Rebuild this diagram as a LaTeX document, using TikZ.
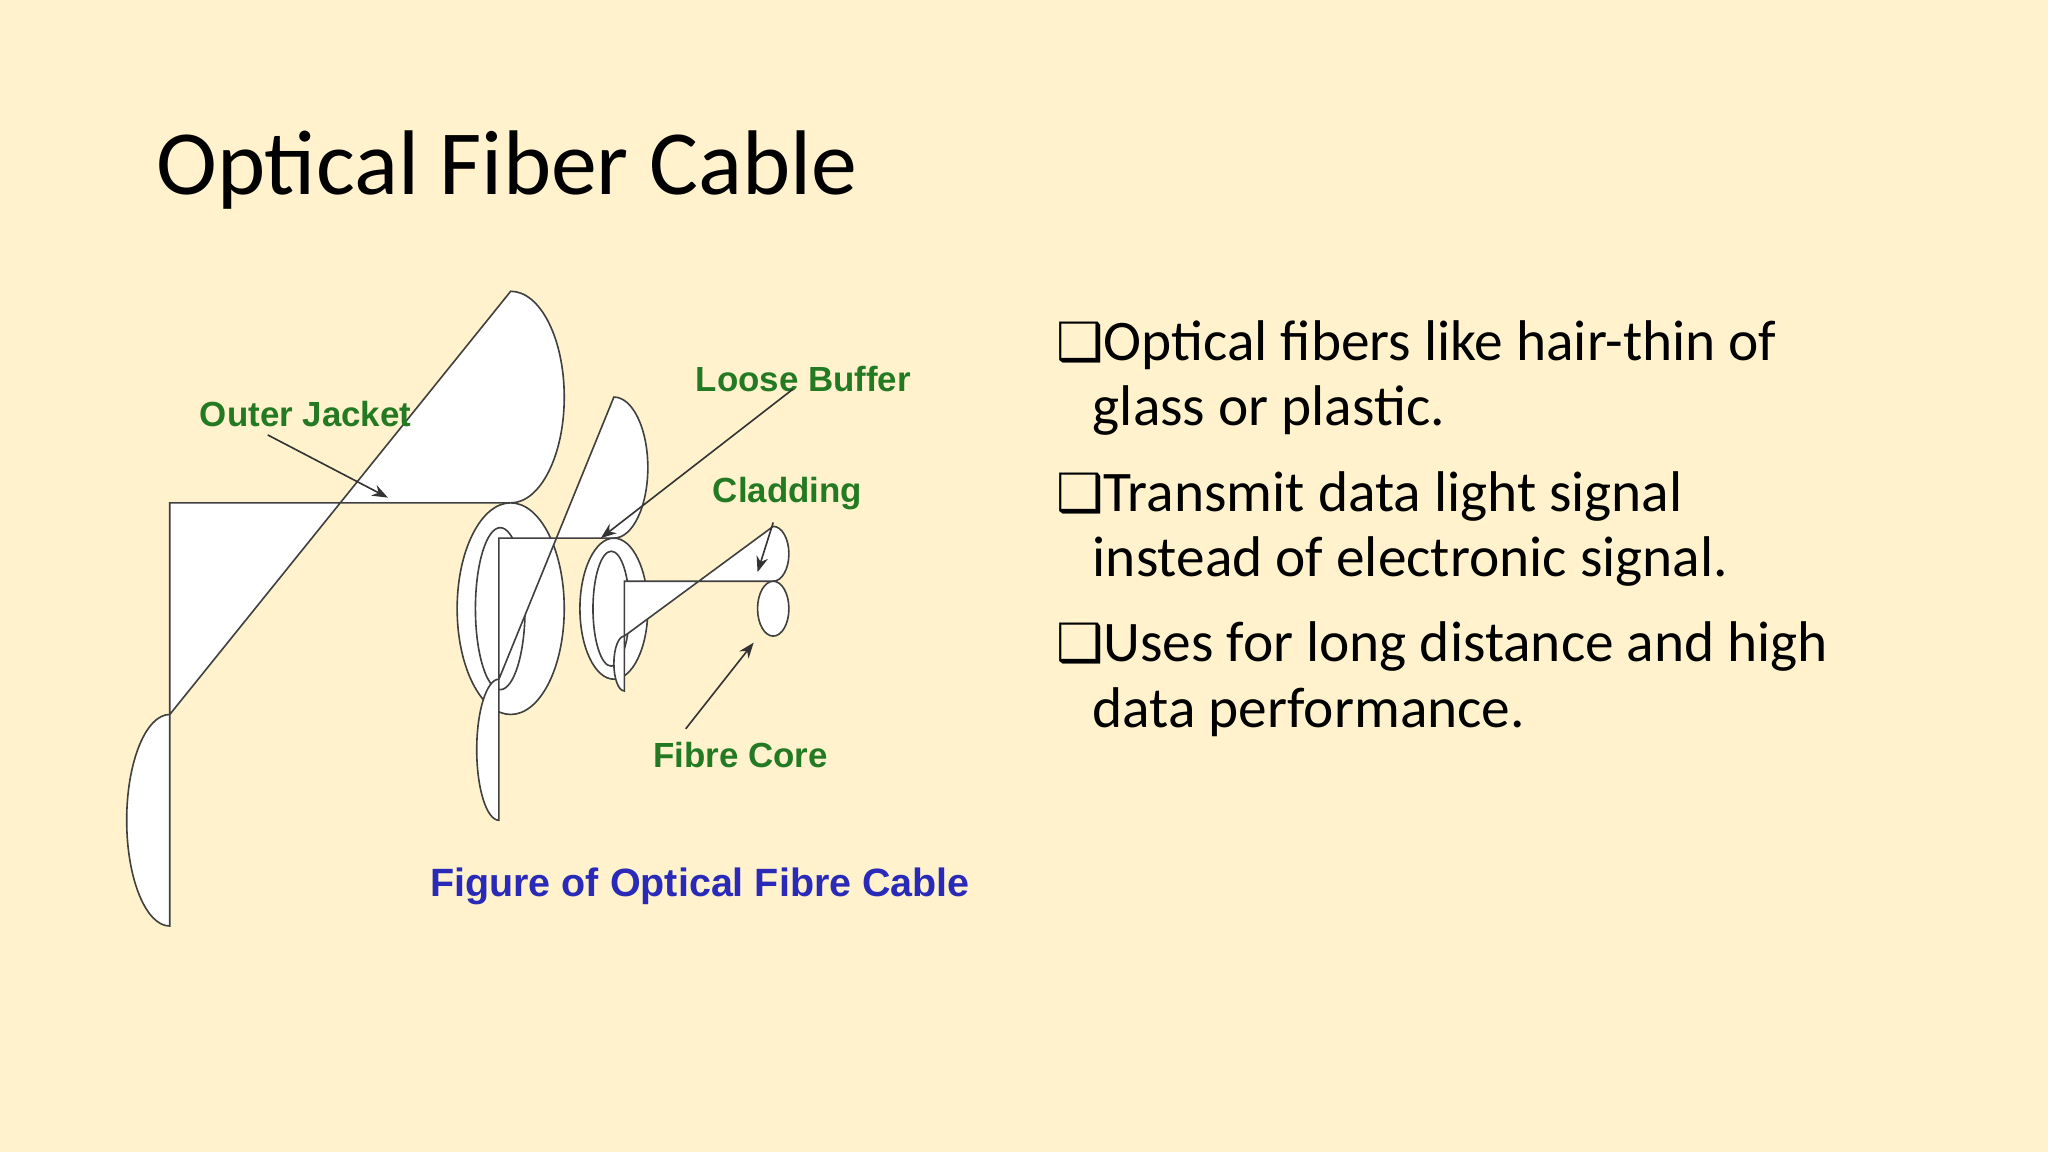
\documentclass[tikz,border=0pt]{standalone}
\usetikzlibrary{arrows.meta}
\usepackage{fontspec}
\setmainfont{Carlito}
\newfontfamily\arialf{Liberation Sans}
\newfontfamily\djv{DejaVu Sans}
\definecolor{bg}{HTML}{FFF2CC}
\definecolor{lblgreen}{HTML}{237A23}
\definecolor{capblue}{HTML}{2A2AB8}
\begin{document}
\begin{tikzpicture}[x=0.1mm,y=-0.1mm,
  lbl/.style={font=\arialf\bfseries\fontsize{7.6}{9}\selectfont,text=lblgreen,inner sep=0},
  bul/.style={font=\fontsize{12.5}{15}\selectfont,anchor=west,inner sep=0},
  cab/.style={draw=black!75,line width=0.35pt,fill=white},
  arr/.style={draw=black!80,line width=0.35pt,-{Stealth[length=1.2mm]}}]
\fill[bg] (0,0) rectangle (1568,882);
\useasboundingbox (0,0) rectangle (1568,882);
\node[anchor=west,inner sep=0,font=\fontsize{20}{24}\selectfont] (title) at (119,130) {Optical Fiber Cable};
% outer jacket
\path[cab] (130,385) -- (391,385) arc[start angle=90,end angle=-90,x radius=41,y radius=81] -- (130,547) arc[start angle=270,end angle=90,x radius=33,y radius=81] -- cycle;
\draw[cab] (391,466) ellipse[x radius=41,y radius=81];
\draw[black!75,line width=0.35pt] (383,466) ellipse[x radius=19,y radius=62];
% buffer
\path[cab] (382,412) -- (470,412) arc[start angle=90,end angle=-90,x radius=26,y radius=54] -- (382,520) arc[start angle=270,end angle=90,x radius=17,y radius=54] -- cycle;
\draw[cab] (470,466) ellipse[x radius=26,y radius=54];
\draw[black!75,line width=0.35pt] (468,466) ellipse[x radius=14,y radius=44];
% core
\path[cab] (478,445) -- (592,445) arc[start angle=90,end angle=-90,x radius=12,y radius=21] -- (478,487) arc[start angle=270,end angle=90,x radius=8,y radius=21] -- cycle;
\draw[cab] (592,466) ellipse[x radius=12,y radius=21];
% labels
\node[lbl] (oj) at (234,317) {Outer Jacket};
\node[lbl] (lb) at (615,290) {Loose Buffer};
\node[lbl] (cl) at (603,378) {Cladding};
\node[lbl] (fc) at (567,578) {Fibre Core};
\coordinate (ojt) at (297,381);
\coordinate (lbt) at (460,412);
\coordinate (clt) at (580,438);
\coordinate (fct) at (577,492);
\draw[arr] (205,333) -- (ojt);
\draw[arr] (607,298) -- (lbt);
\draw[arr] (592,400) -- (clt);
\draw[arr] (525,558) -- (fct);
\node[inner sep=0,font=\arialf\bfseries\fontsize{8.6}{10}\selectfont,text=capblue] (cap) at (536,679) {Figure of Optical Fibre Cable};
% bullets
\node[bul] (b1) at (808,264) {{\djv\fontsize{11.5}{14}\selectfont ❑}Optical fibers like hair-thin of};
\node[bul] (b1b) at (836,314) {glass or plastic.};
\node[bul] (b2) at (808,380) {{\djv\fontsize{11.5}{14}\selectfont ❑}Transmit data light signal};
\node[bul] (b2b) at (836,430) {instead of electronic signal.};
\node[bul] (b3) at (808,495) {{\djv\fontsize{11.5}{14}\selectfont ❑}Uses for long distance and high};
\node[bul] (b3b) at (836,545) {data performance.};
\end{tikzpicture}
\end{document}
